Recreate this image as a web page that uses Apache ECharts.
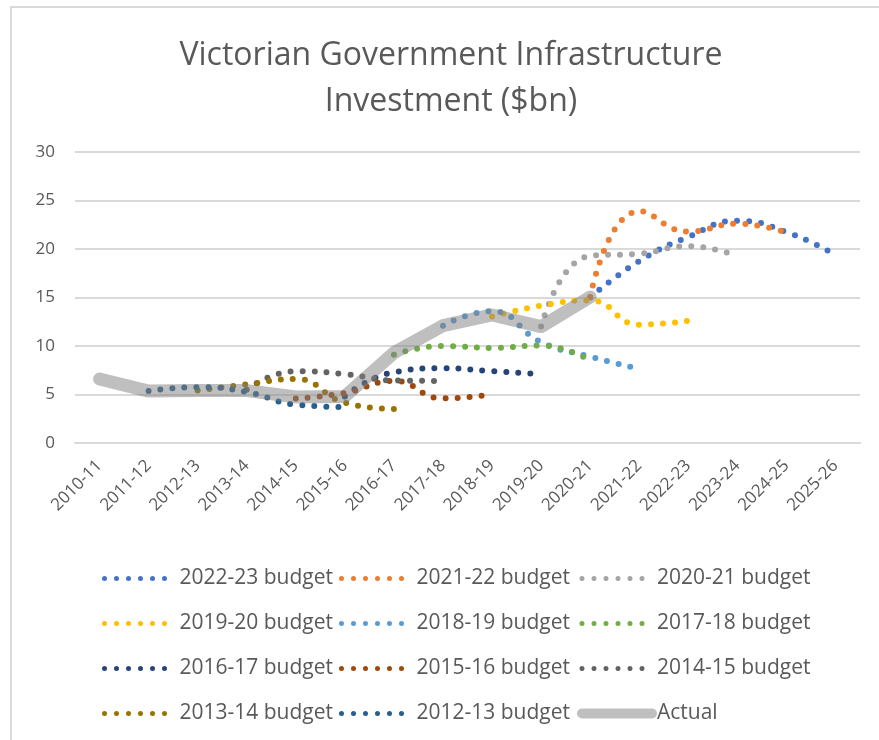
<!DOCTYPE html>
<html>
<head>
<meta charset="utf-8">
<script src="https://cdn.jsdelivr.net/npm/echarts@6/dist/echarts.min.js"></script>
<style>
html,body{margin:0;padding:0;background:#fff;}
#c{width:879px;height:740px;}
</style>
</head>
<body>
<div id="c"></div>
<script>
const categories = ['2010-11','2011-12','2012-13','2013-14','2014-15','2015-16','2016-17','2017-18','2018-19','2019-20','2020-21','2021-22','2022-23','2023-24','2024-25','2025-26'];
const yTicks = [0, 5, 10, 15, 20, 25, 30];

const budget2022_23 = [null,null,null,null,null,null,null,null,null,null,15.0,18.75,21.25,22.9,21.75,19.4];
const budget2021_22 = [null,null,null,null,null,null,null,null,null,null,15.05,23.9,21.8,22.6,21.7,null];
const budget2020_21 = [null,null,null,null,null,null,null,null,null,12.0,19.3,19.5,20.3,19.25,null,null];
const budget2019_20 = [null,null,null,null,null,null,null,null,13.05,14.15,14.7,12.2,12.6,null,null,null];
const budget2018_19 = [null,null,null,null,null,null,null,12.1,13.6,10.4,8.9,7.65,null,null,null,null];
const budget2017_18 = [null,null,null,null,null,null,9.1,10.0,9.8,10.05,8.5,null,null,null,null,null];
const budget2016_17 = [null,null,null,null,null,4.8,7.3,7.7,7.4,7.1,null,null,null,null,null,null];
const budget2015_16 = [null,null,null,null,4.6,5.15,6.4,4.6,5.0,null,null,null,null,null,null,null];
const budget2014_15 = [null,null,null,5.5,7.4,7.1,6.45,6.4,null,null,null,null,null,null,null,null];
const budget2013_14 = [null,null,5.4,6.05,6.6,4.15,3.5,null,null,null,null,null,null,null,null,null];
const budget2012_13 = [null,5.35,5.75,5.25,3.95,3.7,null,null,null,null,null,null,null,null,null,null];
const actual = [6.6,5.35,5.4,5.4,4.75,4.8,9.3,12.1,13.2,12.0,15.05,null,null,null,null,null];

const seriesNames = ['2022-23 budget','2021-22 budget','2020-21 budget','2019-20 budget','2018-19 budget','2017-18 budget','2016-17 budget','2015-16 budget','2014-15 budget','2013-14 budget','2012-13 budget','Actual'];
const seriesData = [budget2022_23,budget2021_22,budget2020_21,budget2019_20,budget2018_19,budget2017_18,budget2016_17,budget2015_16,budget2014_15,budget2013_14,budget2012_13,actual];
const colors = ['#4472C4','#ED7D31','#A5A5A5','#FFC000','#5B9BD5','#70AD47','#264478','#9E480E','#636363','#997300','#255E91','rgba(128,128,128,0.5)'];

const FONT = "'Open Sans', 'Liberation Sans', sans-serif";
const TXT = '#595959';

const series = seriesNames.map((name, i) => {
  const isActual = name === 'Actual';
  return {
    name: name,
    type: 'line',
    data: seriesData[i],
    symbol: 'none',
    showSymbol: false,
    smooth: isActual ? false : 0.5,
    color: colors[i],
    lineStyle: isActual
      ? { width: 13, color: colors[i], cap: 'round', join: 'round' }
      : { width: 6, color: colors[i], type: [0, 12], cap: 'round' },
    emphasis: { disabled: true },
    z: isActual ? 3 : 2
  };
});

const legendBase = {
  orient: 'vertical',
  top: 563,
  itemWidth: 70,
  itemHeight: 14,
  itemGap: 24,
  selectedMode: false,
  itemStyle: { opacity: 0 },
  lineStyle: { width: 5, type: [0, 12], cap: 'round' },
  textStyle: { fontFamily: FONT, fontSize: 21, color: TXT, lineHeight: 21 }
};

const chart = echarts.init(document.getElementById('c'), null, { renderer: 'canvas' });
chart.setOption({
  backgroundColor: '#fff',
  animation: false,
  graphic: [
    { type: 'rect', shape: { x: 11, y: 7, width: 900, height: 800 }, style: { fill: 'none', stroke: '#d9d9d9', lineWidth: 2 }, silent: true },
    { type: 'text', x: 451, y: 33, style: { text: 'Victorian Government Infrastructure\nInvestment ($bn)', textAlign: 'center', font: "32px " + FONT, fill: TXT, lineHeight: 46 }, silent: true }
  ],
  legend: [
    Object.assign({}, legendBase, { left: 97, data: ['2022-23 budget','2019-20 budget','2016-17 budget','2013-14 budget'] }),
    Object.assign({}, legendBase, { left: 334, data: ['2021-22 budget','2018-19 budget','2015-16 budget','2012-13 budget'] }),
    Object.assign({}, legendBase, { left: 572, data: ['2020-21 budget','2017-18 budget','2014-15 budget', { name: 'Actual', lineStyle: { width: 10, type: 'solid', cap: 'round' } }] })
  ],
  grid: { left: 75, right: 19, top: 152, bottom: 297, containLabel: false },
  xAxis: {
    type: 'category',
    data: categories,
    boundaryGap: true,
    axisLine: { show: true, lineStyle: { color: '#d9d9d9', width: 2 } },
    axisTick: { show: false },
    axisLabel: { rotate: 45, margin: 20, fontFamily: FONT, fontSize: 17, color: TXT, interval: 0 }
  },
  yAxis: {
    type: 'value',
    min: yTicks[0],
    max: yTicks[yTicks.length - 1],
    interval: 5,
    axisLine: { show: false },
    axisTick: { show: false },
    splitLine: { lineStyle: { color: '#d9d9d9', width: 2 } },
    axisLabel: { margin: 20, fontFamily: FONT, fontSize: 17, color: TXT }
  },
  series: series
});
</script>
</body>
</html>
